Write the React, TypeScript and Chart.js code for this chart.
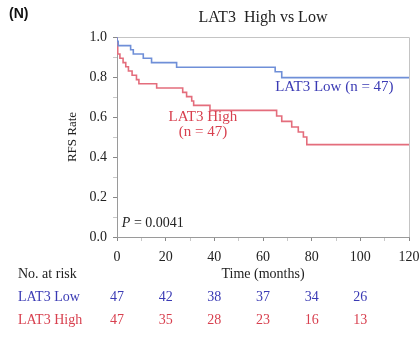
import React, { useEffect, useRef } from "react";
import { Chart, registerables } from "chart.js";

Chart.register(...registerables);

const lowTimes = [0, 0.5, 5.6, 6.7, 10.8, 14.2, 24.5, 65, 67.7, 94.4, 120];
const lowSurv = [1.0, 0.979, 0.957, 0.936, 0.915, 0.894, 0.872, 0.849, 0.826, 0.797, 0.797];
const highTimes = [0, 0.3, 1.2, 2.5, 3.6, 4.7, 6.2, 8.0, 9.0, 16.3, 27, 28.6, 30.7, 31.5, 38.2, 65.6, 67.7, 71.8, 74.5, 76.6, 78, 93.7, 120];
const highSurv = [1.0, 0.957, 0.915, 0.894, 0.872, 0.851, 0.83, 0.809, 0.787, 0.766, 0.745, 0.723, 0.702, 0.68, 0.658, 0.633, 0.605, 0.578, 0.55, 0.525, 0.5, 0.462, 0.462];

const riskTimes = [0, 20, 40, 60, 80, 100];
const riskLow = [47, 42, 38, 37, 34, 26];
const riskHigh = [47, 35, 28, 23, 16, 13];

const LINE_BLUE = "#6f8fd8";
const LINE_RED = "#e46d7c";
const TEXT_BLUE = "#3a3ab4";
const TEXT_RED = "#d8404f";
const SERIF = "'Liberation Serif', 'Times New Roman', serif";

const textPlugin = {
  id: "kmText",
  beforeDatasetsDraw(chart: any) {
    const { ctx, chartArea } = chart;
    ctx.save();
    ctx.strokeStyle = "#c4c4c4";
    ctx.lineWidth = 1;
    ctx.beginPath();
    ctx.moveTo(chartArea.left, chartArea.top + 0.5);
    ctx.lineTo(chartArea.right + 0.5, chartArea.top + 0.5);
    ctx.lineTo(chartArea.right + 0.5, chartArea.bottom);
    ctx.stroke();
    ctx.restore();
  },
  afterDraw(chart: any) {
    const { ctx, chartArea, scales } = chart;
    const xs = scales.x;
    const ys = scales.y;
    ctx.save();
    // panel label
    ctx.fillStyle = "#111";
    ctx.font = "bold 14px 'Liberation Sans', Arial, sans-serif";
    ctx.textAlign = "left";
    ctx.textBaseline = "middle";
    ctx.fillText("(N)", 9, 14);
    // title
    ctx.font = `16px ${SERIF}`;
    ctx.textAlign = "center";
    ctx.fillStyle = "#222";
    ctx.fillText("LAT3  High vs Low", (chartArea.left + chartArea.right) / 2, 18);
    // y title
    ctx.save();
    ctx.translate(73, (chartArea.top + chartArea.bottom) / 2);
    ctx.rotate(-Math.PI / 2);
    ctx.font = `13px ${SERIF}`;
    ctx.fillText("RFS Rate", 0, 0);
    ctx.restore();
    // x title
    ctx.font = `14px ${SERIF}`;
    ctx.fillText("Time (months)", xs.getPixelForValue(60), chartArea.bottom + 37);
    // annotations
    ctx.font = `15px ${SERIF}`;
    ctx.fillStyle = TEXT_BLUE;
    ctx.textAlign = "left";
    ctx.fillText("LAT3 Low (n = 47)", xs.getPixelForValue(65), ys.getPixelForValue(0.749));
    ctx.fillStyle = TEXT_RED;
    ctx.textAlign = "center";
    ctx.fillText("LAT3 High", xs.getPixelForValue(35.3), ys.getPixelForValue(0.598));
    ctx.fillText("(n = 47)", xs.getPixelForValue(35.3), ys.getPixelForValue(0.523));
    // p value
    ctx.fillStyle = "#222";
    ctx.textAlign = "left";
    const px = xs.getPixelForValue(2);
    const py = ys.getPixelForValue(0.07);
    ctx.font = `italic 14px ${SERIF}`;
    ctx.fillText("P", px, py);
    const pw = ctx.measureText("P").width;
    ctx.font = `14px ${SERIF}`;
    ctx.fillText(" = 0.0041", px + pw, py);
    // at risk table
    ctx.fillStyle = "#222";
    ctx.fillText("No. at risk", 18, chartArea.bottom + 37);
    const rowLow = chartArea.bottom + 60;
    const rowHigh = chartArea.bottom + 83;
    ctx.fillStyle = TEXT_BLUE;
    ctx.fillText("LAT3 Low", 18, rowLow);
    ctx.fillStyle = TEXT_RED;
    ctx.fillText("LAT3 High", 18, rowHigh);
    ctx.textAlign = "center";
    riskTimes.forEach((t, i) => {
      const x = xs.getPixelForValue(t);
      ctx.fillStyle = TEXT_BLUE;
      ctx.fillText(String(riskLow[i]), x, rowLow);
      ctx.fillStyle = TEXT_RED;
      ctx.fillText(String(riskHigh[i]), x, rowHigh);
    });
    ctx.restore();
  },
};

export default function App() {
  const ref = useRef<HTMLCanvasElement | null>(null);
  useEffect(() => {
    if (!ref.current) return;
    const chart = new Chart(ref.current, {
      type: "line",
      data: {
        datasets: [
          {
            label: "LAT3 Low",
            data: lowTimes.map((t, i) => ({ x: t, y: lowSurv[i] })),
            borderColor: LINE_BLUE,
            borderWidth: 1.6,
            pointRadius: 0,
            stepped: "after",
            fill: false,
          },
          {
            label: "LAT3 High",
            data: highTimes.map((t, i) => ({ x: t, y: highSurv[i] })),
            borderColor: LINE_RED,
            borderWidth: 1.6,
            pointRadius: 0,
            stepped: "after",
            fill: false,
          },
        ],
      },
      plugins: [textPlugin],
      options: {
        responsive: false,
        animation: false,
        layout: { padding: { top: 37, right: 11, left: 0, bottom: 0 } },
        plugins: { legend: { display: false }, tooltip: { enabled: false } },
        scales: {
          x: {
            type: "linear",
            min: 0,
            max: 120,
            afterFit: (s: any) => {
              s.height = 103;
              s.paddingLeft = 0;
              s.paddingRight = 0;
            },
            border: { display: true, color: "#9a9a9a", width: 1 },
            grid: {
              drawOnChartArea: false,
              drawTicks: true,
              tickLength: 4,
              tickColor: (c: any) => (c.index % 2 === 0 ? "#888" : "#c8c8c8"),
            },
            ticks: {
              stepSize: 10,
              autoSkip: false,
              maxRotation: 0,
              padding: 8,
              color: "#222",
              font: { family: SERIF, size: 14 },
              callback: (v: any, i: number) => (i % 2 === 0 ? String(Math.round(v)) : ""),
            },
          },
          y: {
            type: "linear",
            min: 0,
            max: 1,
            afterFit: (s: any) => {
              s.width = 117;
              s.paddingTop = 0;
              s.paddingBottom = 0;
            },
            border: { display: true, color: "#9a9a9a", width: 1 },
            grid: {
              drawOnChartArea: false,
              drawTicks: true,
              tickLength: 4,
              tickColor: (c: any) => (c.index % 2 === 0 ? "#888" : "#c8c8c8"),
            },
            ticks: {
              stepSize: 0.1,
              autoSkip: false,
              padding: 6,
              color: "#222",
              font: { family: SERIF, size: 14 },
              callback: (v: any, i: number) => (i % 2 === 0 ? Number(v).toFixed(1) : ""),
            },
          },
        },
      },
    } as any);
    return () => chart.destroy();
  }, []);
  return (
    <div style={{ position: "fixed", left: 0, top: 0, width: 420, height: 340, background: "#fff" }}>
      <canvas ref={ref} width={420} height={340} style={{ display: "block" }} />
    </div>
  );
}
